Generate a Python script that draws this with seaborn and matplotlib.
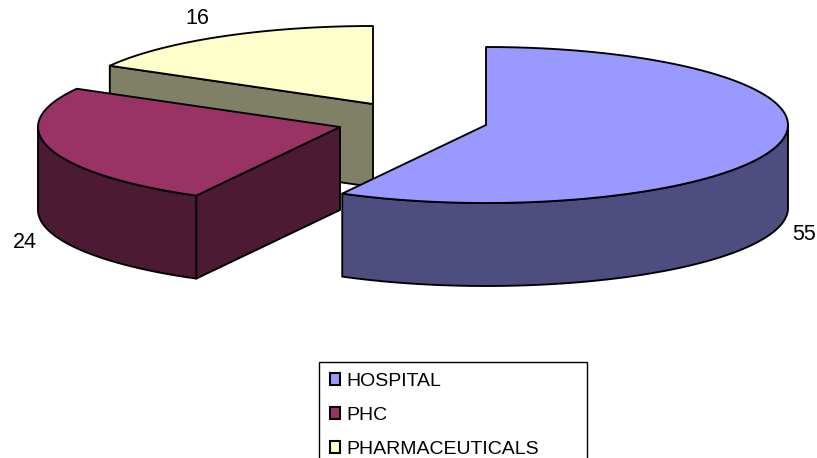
import numpy as np
import matplotlib
matplotlib.use("Agg")
import matplotlib.pyplot as plt
import seaborn as sns
from matplotlib.patches import Polygon, Patch

categories = ["HOSPITAL", "PHC", "PHARMACEUTICALS"]
values = [55, 24, 16]
top_colors = ["#9999FF", "#993366", "#FFFFCC"]
side_colors = ["#4D4D80", "#4D1A33", "#808066"]

sns.set_style("white")
plt.rcParams["font.family"] = ["Liberation Sans", "DejaVu Sans"]

# slice apex in pixels (exploded pie), ellipse radii and wall height
apex = [(486, 125), (340, 127), (373, 104)]
label_pos = [(804, 234), (25, 243), (197, 19)]
rx, ry = 302, 78
depth = 83
edge = dict(edgecolor="black", linewidth=1.35, joinstyle="round")


def rim(cx, cy, t0, t1):
    t = np.radians(np.linspace(t0, t1, 120))
    return np.column_stack([cx + rx * np.sin(t), cy - ry * np.cos(t)])


fig, ax = plt.subplots(figsize=(8.17, 4.58), dpi=100)
fig.subplots_adjust(0, 0, 1, 1)
ax.set_xlim(0, 817)
ax.set_ylim(458, 0)
ax.axis("off")

# angles come from the values, clockwise from 12 o'clock
edges = np.cumsum([0] + values) / sum(values) * 360

# back to front so the nearer slices cover the others
for i in [2, 1, 0]:
    t0, t1 = edges[i], edges[i + 1]
    cx, cy = apex[i]

    # visible cut face
    if 180 < t0 < 360:
        p = rim(cx, cy, t0, t0)[0]
        face = [(cx, cy), p, (p[0], p[1] + depth), (cx, cy + depth)]
        ax.add_patch(Polygon(face, closed=True, facecolor=side_colors[i], **edge))

    # outer wall, front half of the ellipse only
    a, b = max(t0, 90), min(t1, 270)
    if a < b:
        arc = rim(cx, cy, a, b)
        wall = np.vstack([arc, (arc + [0, depth])[::-1]])
        ax.add_patch(Polygon(wall, closed=True, facecolor=side_colors[i], **edge))

    top = np.vstack([[(cx, cy)], rim(cx, cy, t0, t1)])
    ax.add_patch(Polygon(top, closed=True, facecolor=top_colors[i], **edge))

    ax.text(label_pos[i][0], label_pos[i][1], str(values[i]), fontsize=15.5,
            ha="center", va="center", color="black")

handles = [Patch(facecolor=c, edgecolor="black", linewidth=1.5) for c in top_colors]
leg = ax.legend(handles, categories, loc="upper left",
                bbox_to_anchor=(319 / 817, 1 - 362 / 458, 268 / 817, 0),
                mode="expand", borderaxespad=0, fontsize=14, frameon=True,
                fancybox=False, edgecolor="black", framealpha=1, labelcolor="black",
                handlelength=0.53, handleheight=0.53, handletextpad=0.3,
                labelspacing=0.88, borderpad=0.56)
leg.get_frame().set_linewidth(1.0)

plt.savefig("out.png", dpi=100)
